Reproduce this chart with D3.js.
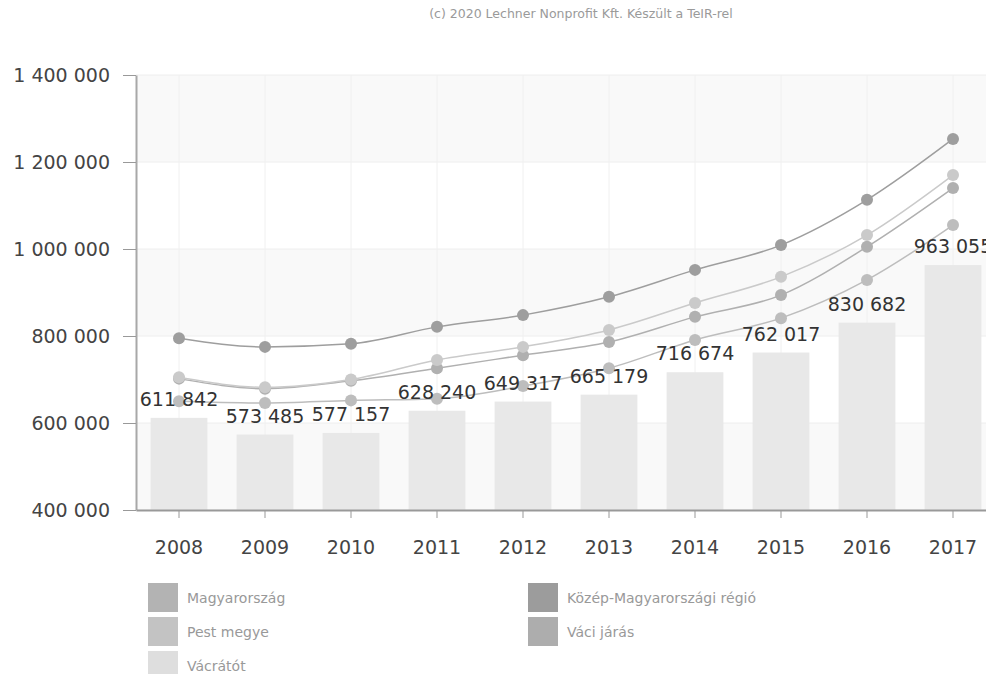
<!DOCTYPE html>
<html>
<head>
<meta charset="utf-8">
<script src="https://cdn.jsdelivr.net/npm/d3@7"></script>
<style>
    body { margin: 0; background: #fff; }
    text { font-family: "DejaVu Sans", Verdana, sans-serif; }
</style>
</head>
<body>
<div id="chart"></div>
<script>
const years = ['2008', '2009', '2010', '2011', '2012', '2013', '2014', '2015', '2016', '2017'];

// bars
const vacratot = [611842, 573485, 577157, 628240, 649317, 665179, 716674, 762017, 830682, 963055];

// lines
const kozepMagyarorszag = [795000, 775000, 782000, 821000, 848000, 890000, 952000, 1009000, 1113000, 1253000];
const pestMegye = [705000, 682000, 700000, 745000, 775000, 814000, 876000, 936000, 1032000, 1170000];
const vaciJaras = [702000, 679000, 697000, 726000, 756000, 786000, 844000, 894000, 1005000, 1140000];
const magyarorszag = [650000, 646000, 652000, 656000, 685000, 726000, 791000, 841000, 929000, 1055000];

const yTicks = [400000, 600000, 800000, 1000000, 1200000, 1400000];

const legendNames = ['Magyarország', 'Közép-Magyarországi régió', 'Pest megye', 'Váci járás', 'Vácrátót'];

const huFormat = d3.formatLocale({ thousands: ' ', grouping: [3], decimal: ',', currency: ['', ''] }).format(',');

function drawChart() {
    d3.select('#chart').selectAll('*').remove();

    const svg = d3.select('#chart')
        .append('svg')
        .attr('width', 986)
        .attr('height', 674);

    const xScale = d3.scaleBand()
        .domain(years)
        .range([136, 996])
        .paddingInner(0.34)
        .paddingOuter(0.17);

    const yScale = d3.scaleLinear()
        .domain([400000, 1400000])
        .range([510, 75]);

    const cx = d => xScale(d) + xScale.bandwidth() / 2;

    // title
    svg.append('text')
        .attr('x', 581)
        .attr('y', 18)
        .attr('text-anchor', 'middle')
        .style('font-size', '12.5px')
        .style('fill', '#9a9a9a')
        .text('(c) 2020 Lechner Nonprofit Kft. Készült a TeIR-rel');

    // background bands
    for (let i = 0; i < yTicks.length - 1; i++) {
        svg.append('rect')
            .attr('x', 136)
            .attr('y', yScale(yTicks[i + 1]))
            .attr('width', 860)
            .attr('height', yScale(yTicks[i]) - yScale(yTicks[i + 1]))
            .attr('fill', (yTicks.length - 2 - i) % 2 === 0 ? '#f9f9f9' : '#ffffff');
    }

    // grid
    svg.append('g')
        .selectAll('line')
        .data(yTicks)
        .enter()
        .append('line')
        .attr('x1', 136).attr('x2', 996)
        .attr('y1', d => yScale(d)).attr('y2', d => yScale(d))
        .attr('stroke', '#eeeeee');

    svg.append('g')
        .selectAll('line')
        .data(years)
        .enter()
        .append('line')
        .attr('x1', d => cx(d)).attr('x2', d => cx(d))
        .attr('y1', 75).attr('y2', 510)
        .attr('stroke', '#f0f0f0');

    // bars
    svg.selectAll('.bar')
        .data(vacratot)
        .enter()
        .append('rect')
        .attr('class', 'bar')
        .attr('x', (d, i) => xScale(years[i]))
        .attr('y', d => yScale(d))
        .attr('width', xScale.bandwidth())
        .attr('height', d => 510 - yScale(d))
        .attr('fill', '#e8e8e8');

    // axes
    const yAxis = d3.axisLeft(yScale)
        .tickValues(yTicks)
        .tickSize(13)
        .tickSizeOuter(0)
        .tickPadding(13)
        .tickFormat(huFormat);

    const gy = svg.append('g')
        .attr('transform', 'translate(136, 0)')
        .call(yAxis);
    gy.select('.domain').attr('stroke', '#a8a8a8').attr('stroke-width', 2);
    gy.selectAll('.tick line').attr('stroke', '#999');
    gy.selectAll('.tick text')
        .style('font-size', '19px')
        .style('font-family', '"DejaVu Sans", sans-serif')
        .attr('fill', '#444');

    const xAxis = d3.axisBottom(xScale)
        .tickSize(8)
        .tickSizeOuter(0)
        .tickPadding(23);

    const gx = svg.append('g')
        .attr('transform', 'translate(0, 510)')
        .call(xAxis);
    gx.select('.domain').attr('stroke', '#999').attr('stroke-width', 2);
    gx.selectAll('.tick line').attr('stroke', '#999');
    gx.selectAll('.tick text')
        .style('font-size', '19px')
        .style('font-family', '"DejaVu Sans", sans-serif')
        .attr('fill', '#444');

    // lines
    const series = [
        { values: magyarorszag, color: '#bdbdbd' },
        { values: vaciJaras, color: '#b0b0b0' },
        { values: pestMegye, color: '#cacaca' },
        { values: kozepMagyarorszag, color: '#9e9e9e' }
    ];

    const line = d3.line()
        .x((d, i) => cx(years[i]))
        .y(d => yScale(d))
        .curve(d3.curveMonotoneX);

    series.forEach(s => {
        svg.append('path')
            .datum(s.values)
            .attr('fill', 'none')
            .attr('stroke', s.color)
            .attr('stroke-width', 1.5)
            .attr('d', line);

        svg.append('g')
            .selectAll('circle')
            .data(s.values)
            .enter()
            .append('circle')
            .attr('cx', (d, i) => cx(years[i]))
            .attr('cy', d => yScale(d))
            .attr('r', 6)
            .attr('fill', s.color);
    });

    // bar labels
    svg.selectAll('.label')
        .data(vacratot)
        .enter()
        .append('text')
        .attr('class', 'label')
        .attr('x', (d, i) => cx(years[i]))
        .attr('y', d => yScale(d) - 12)
        .attr('text-anchor', 'middle')
        .style('font-size', '19px')
        .style('fill', '#333')
        .text(d => huFormat(d));

    // legend
    const legendColors = ['#b3b3b3', '#9c9c9c', '#c3c3c3', '#adadad', '#dedede'];
    const legendX = [148, 528];
    legendNames.forEach((name, i) => {
        const lx = legendX[i % 2];
        const ly = 583 + Math.floor(i / 2) * 34;
        svg.append('rect')
            .attr('x', lx)
            .attr('y', ly)
            .attr('width', 30)
            .attr('height', 29)
            .attr('fill', legendColors[i]);
        svg.append('text')
            .attr('x', lx + 39)
            .attr('y', ly + 20)
            .style('font-size', '14px')
            .style('fill', '#999')
            .text(name);
    });
}

drawChart();
</script>
</body>
</html>
